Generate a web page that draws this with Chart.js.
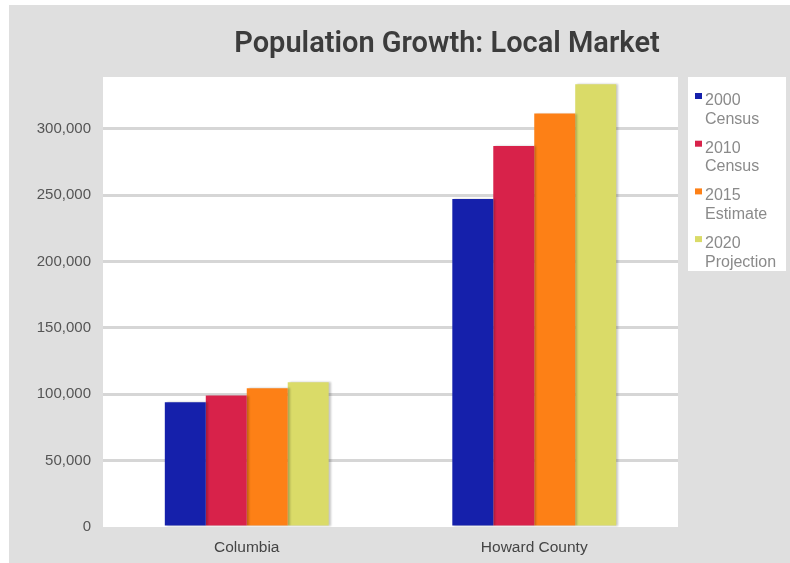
<!DOCTYPE html>
<html>
<head>
<meta charset="utf-8">
<script src="https://cdn.jsdelivr.net/npm/chart.js@4/dist/chart.umd.min.js"></script>
<style>
  html, body { margin: 0; padding: 0; background: #fff; }
  #wrap { width: 790px; height: 563px; }
</style>
</head>
<body>
<div id="wrap"><canvas id="chart" width="790" height="563"></canvas></div>
<script>
const categories = ['Columbia', 'Howard County'];
const seriesNames = ['2000 Census', '2010 Census', '2015 Estimate', '2020 Projection'];
const census2000 = [94000, 247000];
const census2010 = [99000, 287000];
const estimate2015 = [104500, 311500];
const projection2020 = [109000, 333500];
const colors = ['#1520ab', '#d8224a', '#fd8016', '#dadb68'];
const yTicks = [0, 50000, 100000, 150000, 200000, 250000, 300000];
const yMax = 339000;

const backdrop = {
  id: 'backdrop',
  beforeDraw: (chart) => {
    const { ctx, chartArea: a } = chart;
    ctx.save();
    ctx.fillStyle = '#ffffff';
    ctx.fillRect(0, 0, chart.width, chart.height);
    ctx.fillStyle = '#dfdfdf';
    ctx.fillRect(9, 5, chart.width - 9, chart.height - 5);
    ctx.fillStyle = '#ffffff';
    ctx.fillRect(a.left, a.top, a.right - a.left, a.bottom - a.top);
    ctx.fillRect(688, a.top, 98, 194);
    ctx.restore();
  },
  beforeDatasetsDraw: (chart) => {
    const { ctx } = chart;
    ctx.save();
    ctx.shadowColor = 'rgba(0,0,0,0.22)';
    ctx.shadowOffsetX = 2;
    ctx.shadowOffsetY = 0;
    ctx.shadowBlur = 2;
  },
  afterDatasetsDraw: (chart) => {
    chart.ctx.restore();
  },
  afterDraw: (chart) => {
    const { ctx } = chart;
    ctx.save();
    // title
    ctx.fillStyle = '#3c3c3c';
    ctx.font = '600 29px Roboto, "Liberation Sans", sans-serif';
    ctx.textAlign = 'center';
    ctx.textBaseline = 'alphabetic';
    ctx.fillText('Population Growth: Local Market', 447, 52);
    // legend
    ctx.font = '16px "Liberation Sans", Arial, sans-serif';
    ctx.textAlign = 'left';
    chart.data.datasets.forEach((ds, i) => {
      const top = 94 + i * 47.7;
      ctx.fillStyle = ds.backgroundColor;
      ctx.fillRect(695, top - 1, 7, 6);
      ctx.fillStyle = '#8a8a8a';
      const lines = ds.label.split(' ');
      lines.forEach((ln, j) => {
        ctx.fillText(ln, 705, top + 11 + j * 18.5);
      });
    });
    ctx.restore();
  },
};

const seriesValues = [census2000, census2010, estimate2015, projection2020];

new Chart(document.getElementById('chart'), {
  type: 'bar',
  data: {
    labels: categories,
    datasets: seriesNames.map((name, i) => ({
      label: name,
      data: seriesValues[i],
      backgroundColor: colors[i],
      borderWidth: 0,
      categoryPercentage: 0.57,
      barPercentage: 1.0,
    })),
  },
  options: {
    responsive: false,
    animation: false,
    layout: { padding: { top: 77, left: 0, right: 112, bottom: 0 } },
    plugins: {
      legend: { display: false },
      title: { display: false },
      tooltip: { enabled: false },
    },
    scales: {
      x: {
        grid: { display: false },
        border: { display: false },
        ticks: {
          color: '#444',
          font: { family: '"Liberation Sans", Arial, sans-serif', size: 15.5 },
          padding: 3,
        },
        afterFit: (axis) => { axis.height = 36; },
      },
      y: {
        min: 0,
        max: yMax,
        border: { display: false },
        grid: {
          drawTicks: false,
          lineWidth: 3,
          color: (c) => (c.tick && c.tick.value === 0 ? 'rgba(0,0,0,0)' : '#d6d6d6'),
        },
        ticks: {
          autoSkip: false,
          color: '#555',
          padding: 12,
          font: { family: '"Liberation Sans", Arial, sans-serif', size: 15 },
          callback: (v) => v.toLocaleString('en-US'),
        },
        afterBuildTicks: (axis) => {
          axis.ticks = yTicks.map((v) => ({ value: v }));
        },
        afterFit: (axis) => { axis.width = 103; },
      },
    },
  },
  plugins: [backdrop],
});
</script>
</body>
</html>
